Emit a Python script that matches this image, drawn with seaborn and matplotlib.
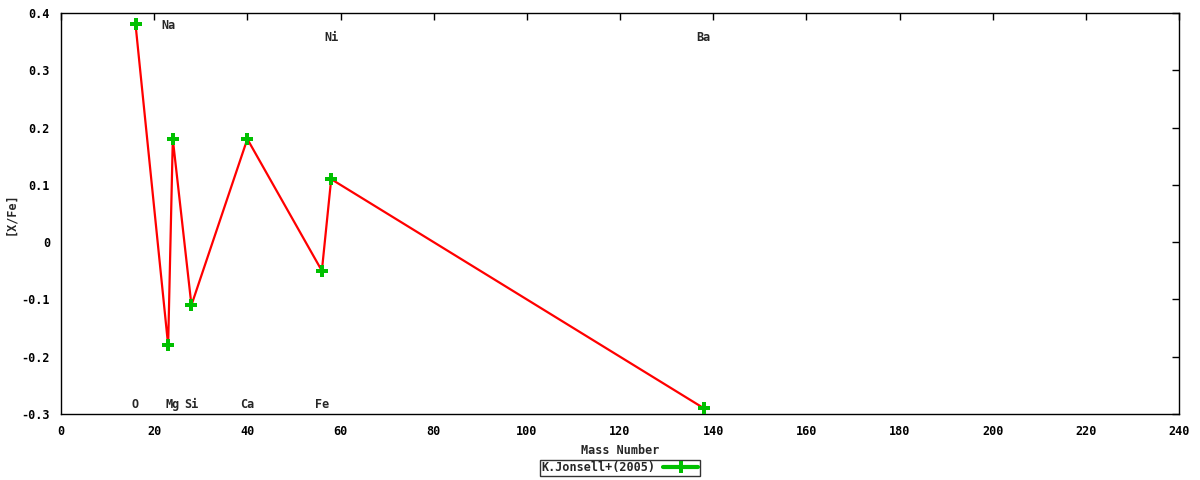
import numpy as np
import pandas as pd
import matplotlib
matplotlib.use('Agg')
import matplotlib.pyplot as plt
import seaborn as sns
from matplotlib.lines import Line2D

# Abundance pattern
elements = ['O', 'Na', 'Mg', 'Si', 'Ca', 'Fe', 'Ni', 'Ba']
mass = [16, 23, 24, 28, 40, 56, 58, 138]
xfe = [0.38, -0.18, 0.18, -0.11, 0.18, -0.05, 0.11, -0.29]
label_y = [-0.283, 0.379, -0.283, -0.283, -0.283, -0.283, 0.358, 0.358]

x_ticks = [0, 20, 40, 60, 80, 100, 120, 140, 160, 180, 200, 220, 240]
y_ticks = [-0.3, -0.2, -0.1, 0.0, 0.1, 0.2, 0.3, 0.4]
y_tick_labels = ['-0.3', '-0.2', '-0.1', '0', '0.1', '0.2', '0.3', '0.4']

sns.set_theme(style='white')
plt.rcParams['font.family'] = ['DejaVu Sans Mono']
plt.rcParams['font.weight'] = 'bold'

df = pd.DataFrame({'mass': mass, 'xfe': xfe, 'element': elements})

fig = plt.figure(figsize=(12, 4.8), dpi=100)
# plot area: px 61..1179 horizontally, 13..414 vertically
ax = fig.add_axes([61 / 1200, 1 - 414 / 480, 1118 / 1200, 401 / 480])

sns.lineplot(data=df, x='mass', y='xfe', sort=False, color='#ff0000',
             linewidth=1.6, ax=ax, zorder=2)
ax.plot(df['mass'], df['xfe'], linestyle='none', marker='P',
        markersize=9, color='#00c000', markeredgewidth=0, zorder=3)

for el, m, ly in zip(elements, mass, label_y):
    ax.text(m, ly, el, ha='center', va='center', fontsize=8.5,
            fontweight='bold')

ax.set_xlim(0, 240)
ax.set_ylim(-0.3, 0.4)
ax.set_xticks(x_ticks)
ax.set_xticklabels([str(t) for t in x_ticks])
ax.set_yticks(y_ticks)
ax.set_yticklabels(y_tick_labels)
ax.tick_params(direction='in', length=5, width=1, top=True, right=True,
               labelsize=8.5, colors='black', pad=8)
for s in ax.spines.values():
    s.set_color('black')
    s.set_linewidth(1)

ax.set_xlabel('Mass Number', fontsize=8.5, fontweight='bold', labelpad=4)
ax.set_ylabel('[X/Fe]', fontsize=8.5, fontweight='bold', labelpad=3)

handle = Line2D([0], [0], color='#00c000', lw=3, marker='P', markersize=9,
                markeredgewidth=0)
leg = fig.legend([handle], ['K.Jonsell+(2005)'], loc='center',
                 bbox_to_anchor=(620 / 1200, 1 - 468 / 480), frameon=True,
                 fancybox=False, fontsize=8.5, handlelength=3, borderpad=0.15,
                 handletextpad=0.6, markerfirst=False)
leg.get_frame().set_edgecolor('black')
leg.get_frame().set_linewidth(1)

fig.savefig('out.png', dpi=100)
